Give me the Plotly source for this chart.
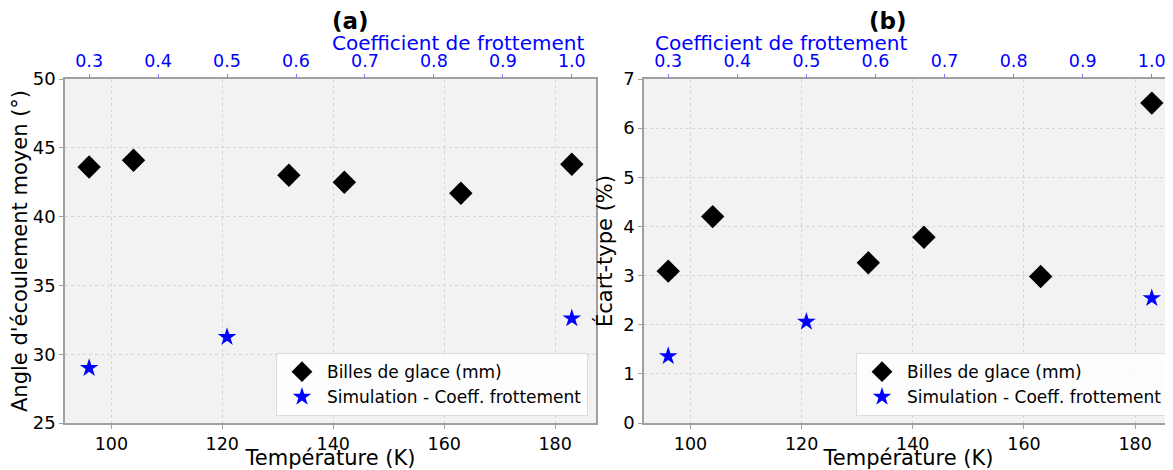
import plotly.graph_objects as go

# Data
temp_glace = [96, 104, 132, 142, 163, 183]
angle_glace = [43.6, 44.1, 43.0, 42.5, 41.7, 43.8]
ecart_glace = [3.09, 4.20, 3.26, 3.78, 2.98, 6.51]

coeff_sim = [0.3, 0.5, 1.0]
angle_sim = [29.0, 31.25, 32.6]
ecart_sim = [1.36, 2.06, 2.54]

temp_ticks = [100, 120, 140, 160, 180]
coeff_ticks = [0.3, 0.4, 0.5, 0.6, 0.7, 0.8, 0.9, 1.0]

FONT = "DejaVu Sans"
GRID = "#d4d4d4"
FRAME = "#a0a0a0"

fig = go.Figure()

diamond = dict(symbol="diamond", size=18, color="black")
star = dict(symbol="star", size=14, color="blue")

fig.add_trace(go.Scatter(x=temp_glace, y=angle_glace, mode="markers", marker=diamond,
                         name="Billes de glace (mm)", xaxis="x", yaxis="y", legend="legend"))
fig.add_trace(go.Scatter(x=coeff_sim, y=angle_sim, mode="markers", marker=star,
                         name="Simulation - Coeff. frottement", xaxis="x3", yaxis="y", legend="legend"))
fig.add_trace(go.Scatter(x=temp_glace, y=ecart_glace, mode="markers", marker=diamond,
                         name="Billes de glace (mm)", xaxis="x2", yaxis="y2", legend="legend2"))
fig.add_trace(go.Scatter(x=coeff_sim, y=ecart_sim, mode="markers", marker=star,
                         name="Simulation - Coeff. frottement", xaxis="x4", yaxis="y2", legend="legend2"))

bottom = dict(tickvals=temp_ticks, showgrid=True, gridcolor=GRID, griddash="dot", gridwidth=1,
              showline=True, linecolor=FRAME, linewidth=1.5, mirror=True, automargin=False,
              ticks="outside", ticklen=4, tickcolor=FRAME, zeroline=False,
              tickfont=dict(size=17.5, color="black"),
              title=dict(text="Température (K)", font=dict(size=21, color="black"), standoff=4))
left = dict(showgrid=True, gridcolor=GRID, griddash="dot", gridwidth=1,
            showline=True, linecolor=FRAME, linewidth=1.5, mirror=True, automargin=False,
            ticks="outside", ticklen=4, tickcolor=FRAME, zeroline=False,
            tickfont=dict(size=18, color="black"))
top = dict(side="top", tickvals=coeff_ticks, tickformat=".1f", showgrid=False, automargin=False,
           ticks="outside", ticklen=4, tickcolor="#8080ff", zeroline=False,
           tickfont=dict(size=17.5, color="blue"))

legend_style = dict(y=0.02, xanchor="right", yanchor="bottom", itemwidth=40,
                    bgcolor="rgba(255,255,255,0.8)", bordercolor="#dddddd", borderwidth=1,
                    font=dict(size=17))

# page body keeps an 8px margin, so the figure is 8px smaller than the window
fig.update_layout(
    width=1165, height=462,
    margin=dict(l=57, r=0, t=71, b=47),
    paper_bgcolor="white", plot_bgcolor="#f2f2f2",
    font=dict(family=FONT, color="black"),
    xaxis=dict(domain=[0, 0.4792], range=[91.65, 187.35], anchor="y", **bottom),
    xaxis2=dict(domain=[0.5226, 1], range=[91.65, 186.81], anchor="y2", **bottom),
    yaxis=dict(range=[25, 50], dtick=5, anchor="x",
               title=dict(text="Angle d'écoulement moyen (°)", font=dict(size=21), standoff=5), **left),
    yaxis2=dict(range=[0, 7], dtick=1, anchor="x2",
                title=dict(text="Écart-type (%)", font=dict(size=21), standoff=5), **left),
    xaxis3=dict(overlaying="x", anchor="y", range=[0.265, 1.035], **top),
    xaxis4=dict(overlaying="x2", anchor="y2", range=[0.265, 1.0307], **top),
    legend=dict(x=0.472, **legend_style),
    legend2=dict(x=0.9955, **legend_style),
)

for cx, label in [(0.2396, "(a)"), (0.7613, "(b)")]:
    fig.add_annotation(x=cx, y=1.17, xref="paper", yref="paper", yanchor="middle",
                       text=f"<b>{label}</b>", showarrow=False, font=dict(size=23, color="black"))
    fig.add_annotation(x=cx, y=1.104, xref="paper", yref="paper", yanchor="middle",
                       text="Coefficient de frottement", showarrow=False,
                       font=dict(size=20, color="blue"))

fig.write_html("out.html")
